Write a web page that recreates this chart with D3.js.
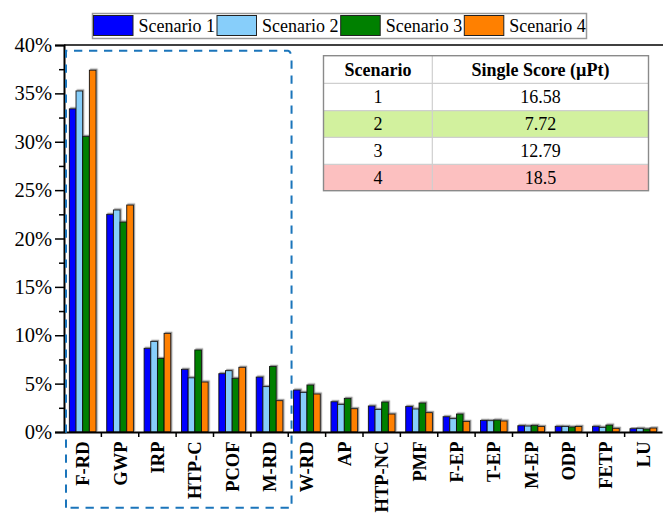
<!DOCTYPE html>
<html>
<head>
<meta charset="utf-8">
<script src="https://cdn.jsdelivr.net/npm/d3@7"></script>
<style>
  html, body { margin: 0; padding: 0; background: #fff; }
  svg, svg text { font-family: "Liberation Serif", "Times New Roman", "DejaVu Serif", serif !important; }
</style>
</head>
<body>
<svg id="chart" width="663" height="513"></svg>
<script>
// Impact categories (share of total single score, %)
const categories = ["F-RD", "GWP", "IRP", "HTP-C", "PCOF", "M-RD", "W-RD", "AP",
  "HTP-NC", "PMF", "F-EP", "T-EP", "M-EP", "ODP", "FETP", "LU"];
const scenario1 = [33.4, 22.5, 8.65, 6.48, 6.03, 5.68, 4.34, 3.13, 2.69, 2.65, 1.58, 1.2, 0.65, 0.59, 0.59, 0.34];
const scenario2 = [35.25, 22.95, 9.37, 5.6, 6.34, 4.69, 4.1, 2.86, 2.34, 2.38, 1.38, 1.17, 0.62, 0.58, 0.48, 0.38];
const scenario3 = [30.56, 21.7, 7.6, 8.48, 5.55, 6.78, 4.86, 3.48, 3.1, 3.0, 1.86, 1.24, 0.69, 0.52, 0.72, 0.31];
const scenario4 = [37.4, 23.46, 10.2, 5.17, 6.69, 3.24, 3.93, 2.41, 1.86, 2.0, 1.1, 1.14, 0.58, 0.58, 0.38, 0.41];
const seriesNames = ["Scenario 1", "Scenario 2", "Scenario 3", "Scenario 4"];
const seriesColors = ["#0000ff", "#87cefa", "#008000", "#ff8000"];
const yTicks = [0, 5, 10, 15, 20, 25, 30, 35, 40];

// Single score table
const tableScenarios = ["1", "2", "3", "4"];
const tableScores = ["16.58", "7.72", "12.79", "18.5"];
const tableFills = ["#ffffff", "#d2f19e", "#ffffff", "#fcc0c0"];

const series = [scenario1, scenario2, scenario3, scenario4];
const svg = d3.select("#chart");
const serif = "'Liberation Serif', 'Times New Roman', 'DejaVu Serif', serif";

const plot = { left: 64, right: 662, top: 45, bottom: 432 };

const x0 = d3.scaleBand().domain(categories).range([plot.left, plot.right]).padding(0);
const x1 = d3.scaleBand().domain(seriesNames)
  .range([x0.bandwidth() * 0.143, x0.bandwidth() * 0.857]).padding(0);
const y = d3.scaleLinear().domain([0, 40]).range([plot.bottom, plot.top]);

// soft shadow behind each bar
const defs = svg.append("defs");
const f = defs.append("filter").attr("id", "barShadow")
  .attr("x", "-50%").attr("y", "-50%").attr("width", "200%").attr("height", "200%");
f.append("feDropShadow").attr("dx", 1.2).attr("dy", -1.2)
  .attr("stdDeviation", 0.7).attr("flood-color", "#777").attr("flood-opacity", 0.75);

// bars
const groups = svg.append("g").selectAll("g")
  .data(categories)
  .join("g")
  .attr("transform", c => `translate(${x0(c)},0)`);

groups.selectAll("rect")
  .data((c, i) => series.map((s, k) => ({ name: seriesNames[k], value: s[i], color: seriesColors[k] })))
  .join("rect")
  .attr("x", d => x1(d.name))
  .attr("y", d => y(d.value))
  .attr("width", x1.bandwidth())
  .attr("height", d => y(0) - y(d.value))
  .attr("fill", d => d.color)
  .attr("stroke", "#111")
  .attr("stroke-width", 0.9)
  .attr("filter", "url(#barShadow)");

// top frame line
svg.append("line")
  .attr("x1", plot.left).attr("x2", 663)
  .attr("y1", plot.top).attr("y2", plot.top)
  .attr("stroke", "#000").attr("stroke-width", 1.5);

// y axis: major and minor ticks
const yAxis = svg.append("g")
  .attr("transform", `translate(${plot.left},0)`)
  .call(d3.axisLeft(y).tickValues(yTicks).tickSize(9).tickPadding(3)
    .tickFormat(d => d + "%"));
yAxis.attr("font-family", serif);
yAxis.select(".domain").attr("stroke", "#000").attr("stroke-width", 2);
yAxis.selectAll(".tick line").attr("stroke", "#000").attr("stroke-width", 1.5);
yAxis.selectAll("text").attr("font-size", 20.5).attr("fill", "#000");

const yMinor = svg.append("g")
  .attr("transform", `translate(${plot.left},0)`)
  .call(d3.axisLeft(y).tickValues(yTicks.slice(0, -1).map(v => v + 2.5)).tickSize(5).tickFormat(""));
yMinor.select(".domain").remove();
yMinor.selectAll(".tick line").attr("stroke", "#000").attr("stroke-width", 1.5);

// x axis: category labels and boundary ticks
const xAxis = svg.append("g")
  .attr("transform", `translate(0,${plot.bottom})`)
  .call(d3.axisBottom(x0).tickSize(0).tickPadding(0));
xAxis.attr("font-family", serif);
xAxis.select(".domain").attr("stroke", "#000").attr("stroke-width", 2.2);
xAxis.selectAll("text")
  .attr("transform", "rotate(-90)")
  .attr("x", -9.5).attr("y", 0).attr("dy", "0.35em")
  .style("text-anchor", "end")
  .attr("font-size", 18.5).attr("font-weight", "bold").attr("fill", "#000");

svg.append("g").selectAll("line")
  .data(categories.slice(1))
  .join("line")
  .attr("x1", c => x0(c)).attr("x2", c => x0(c))
  .attr("y1", plot.bottom).attr("y2", plot.bottom + 5)
  .attr("stroke", "#000").attr("stroke-width", 1.5);

// dashed box around the dominant categories
const bx0 = x0(categories[0]) + 2;
const bx1 = x0(categories[6]) + 3.3;
const by0 = 50.7, by1 = 507.7;
svg.append("path")
  .attr("d", `M${bx0},${by1} L${bx0},${by0} L${bx1 - 3.5},${by0} Q${bx1 - 0.5},${by0 + 0.5} ${bx1},${by0 + 7} L${bx1},${by1} Z`)
  .attr("fill", "none")
  .attr("stroke", "#1b75bb")
  .attr("stroke-width", 2)
  .attr("stroke-dasharray", "8.3,6.7");

// legend
const legend = svg.append("g").attr("font-family", serif);
legend.append("rect")
  .attr("x", 92.5).attr("y", 13.5).attr("width", 494).attr("height", 25)
  .attr("fill", "#fff").attr("stroke", "#9a9a9a").attr("stroke-width", 1.5);
const legendX = [93.5, 217, 340.7, 464.3];
const li = legend.selectAll("g.item")
  .data(seriesNames)
  .join("g")
  .attr("class", "item")
  .attr("transform", (d, i) => `translate(${legendX[i]},15.5)`);
li.append("rect")
  .attr("width", 39.5).attr("height", 20)
  .attr("fill", (d, i) => seriesColors[i])
  .attr("stroke", "#222").attr("stroke-width", 1);
li.append("text")
  .attr("x", 45).attr("y", 16)
  .attr("font-size", 18).attr("fill", "#000")
  .text(d => d);

// single score table
const tbl = svg.append("g").attr("font-family", serif);
const tx0 = 323.5, tx1 = 648.5, txMid = 432.3;
const rowY = [55.7, 83.3, 110.7, 137.3, 164.3, 190.7];

tbl.selectAll("rect.row")
  .data(tableScenarios)
  .join("rect")
  .attr("class", "row")
  .attr("x", tx0).attr("width", tx1 - tx0)
  .attr("y", (d, i) => rowY[i + 1])
  .attr("height", (d, i) => rowY[i + 2] - rowY[i + 1])
  .attr("fill", (d, i) => tableFills[i]);

// inner grid lines
tbl.selectAll("line.h")
  .data(rowY.slice(1, -1))
  .join("line")
  .attr("class", "h")
  .attr("x1", tx0).attr("x2", tx1)
  .attr("y1", d => d).attr("y2", d => d)
  .attr("stroke", "#cfcfcf").attr("stroke-width", 1.2);
tbl.append("line")
  .attr("x1", txMid).attr("x2", txMid)
  .attr("y1", rowY[0]).attr("y2", rowY[5])
  .attr("stroke", "#cfcfcf").attr("stroke-width", 1.2);
tbl.append("rect")
  .attr("x", tx0).attr("y", rowY[0])
  .attr("width", tx1 - tx0).attr("height", rowY[5] - rowY[0])
  .attr("fill", "none").attr("stroke", "#8a8a8a").attr("stroke-width", 1.4);

tbl.append("text")
  .attr("x", (tx0 + txMid) / 2).attr("y", (rowY[0] + rowY[1]) / 2 + 6)
  .attr("text-anchor", "middle").attr("font-size", 18).attr("font-weight", "bold")
  .text("Scenario");
tbl.append("text")
  .attr("x", (txMid + tx1) / 2).attr("y", (rowY[0] + rowY[1]) / 2 + 6)
  .attr("text-anchor", "middle").attr("font-size", 18).attr("font-weight", "bold")
  .text("Single Score (\u00b5Pt)");

tbl.selectAll("text.sc")
  .data(tableScenarios)
  .join("text")
  .attr("class", "sc")
  .attr("x", (tx0 + txMid) / 2)
  .attr("y", (d, i) => (rowY[i + 1] + rowY[i + 2]) / 2 + 6)
  .attr("text-anchor", "middle").attr("font-size", 18)
  .text(d => d);
tbl.selectAll("text.val")
  .data(tableScores)
  .join("text")
  .attr("class", "val")
  .attr("x", (txMid + tx1) / 2)
  .attr("y", (d, i) => (rowY[i + 1] + rowY[i + 2]) / 2 + 6)
  .attr("text-anchor", "middle").attr("font-size", 18)
  .text(d => d);
</script>
</body>
</html>
